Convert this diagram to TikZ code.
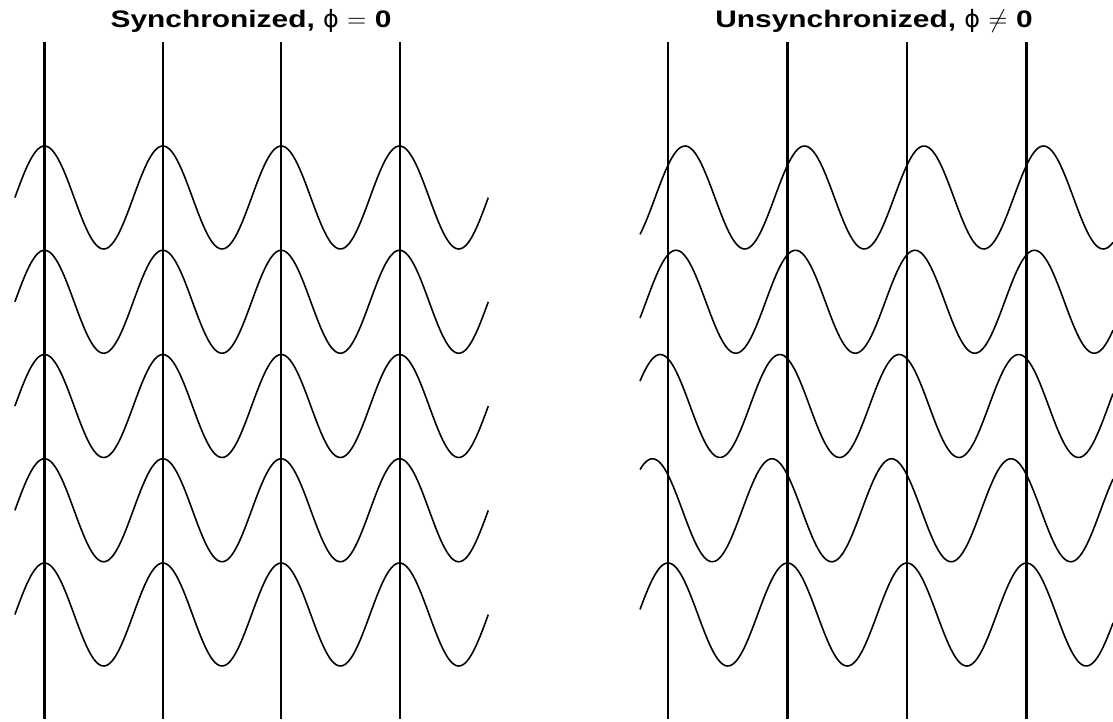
\documentclass[tikz,border=0pt]{standalone}
\usepackage{fontspec}
\setmainfont{Liberation Sans}[FakeStretch=1.25]
\newfontfamily\greekfont{DejaVu Sans}
\usepackage{tikz}
\usetikzlibrary{calc}

\tikzset{
  wave/.style={line width=0.9pt, black},
  marker/.style={line width=1.2pt, black},
  paneltitle/.style={font=\bfseries\fontsize{13.6}{16}\selectfont, anchor=base}
}

\begin{document}
\begin{tikzpicture}
  \useasboundingbox (0,0) rectangle (22.26,14.42);
  \def\amp{1.03}

  % Titles
  \node[paneltitle] (synctitle) at (5.02,13.86) {Synchronized, {\greekfont\mdseries ϕ} $=$ 0};
  \node[paneltitle] (unsynctitle) at (17.48,13.86) {Unsynchronized, {\greekfont\mdseries ϕ} $\neq$ 0};

  % Left panel: every row in phase with the markers
  \def\perl{2.367}
  \foreach \k in {0,...,3}
    \draw[marker] ({0.89+\k*\perl},0.04) -- ({0.89+\k*\perl},13.58);
  \foreach \r in {0,...,4}
    \draw[wave] plot[domain=0.298:9.766, samples=240]
      (\x, {10.47-\r*2.085+\amp*cos(360*(\x-0.89)/\perl)});

  % Right panel: each row shifted by its own phase
  \def\perr{2.39}
  \foreach \k in {0,...,3}
    \draw[marker] ({13.36+\k*\perr},0.04) -- ({13.36+\k*\perr},13.58);
  \foreach \r/\d in {0/0.34, 1/0.16, 2/-0.155, 3/-0.31, 4/0}
    \draw[wave] plot[domain=12.8:22.26, samples=240]
      (\x, {10.47-\r*2.085+\amp*cos(360*(\x-13.36-\d)/\perr)});
\end{tikzpicture}
\end{document}
